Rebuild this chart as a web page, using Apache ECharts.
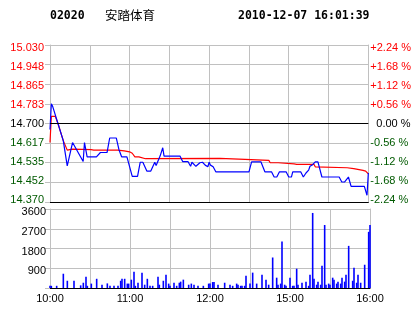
<!DOCTYPE html>
<html><head><meta charset="utf-8">
<script src="https://cdn.jsdelivr.net/npm/echarts@6/dist/echarts.min.js"></script>
<style>html,body{margin:0;padding:0;background:#fff}#c{width:414px;height:314px}</style>
</head><body><div id="c"></div>
<script>
// ---- header texts ----
const stockCode = "02020";
const stockName = "安踏体育";
const stampText = "2010-12-07 16:01:39";

// ---- axis tick labels ----
const priceTicks = ["14.370","14.452","14.535","14.617","14.700","14.783","14.865","14.948","15.030"];
const pctTicks = ["-2.24 %","-1.68 %","-1.12 %","-0.56 %","0.00 %","+0.56 %","+1.12 %","+1.68 %","+2.24 %"];
const timeTicks = ["10:00","","11:00","","12:00","","15:00","","16:00"];
const volTicks = ["","900","1800","2700","3600"];
const prevClose = 14.700;

// ---- price line (minute index from 10:00, price) ----
const priceMin = [0,1,2,6,10,13,17,25,26,28,35,38,43,45,50,52,54,58,62,66,68,70,73,76,79,80,83,85,86,98,100,104,106,107,110,113,115,117,119,120,121,123,125,150,152,159,162,167,169,171,173,178,180,182,183,189,191,193,195,196,198,200,202,205,218,220,222,225,227,237,239,240];
const priceVal = [14.675,14.783,14.772,14.700,14.628,14.522,14.620,14.540,14.620,14.560,14.560,14.578,14.578,14.639,14.639,14.590,14.560,14.560,14.478,14.478,14.537,14.537,14.500,14.500,14.537,14.523,14.563,14.598,14.563,14.563,14.540,14.540,14.520,14.537,14.520,14.535,14.537,14.525,14.518,14.537,14.525,14.518,14.497,14.497,14.539,14.539,14.497,14.497,14.475,14.475,14.497,14.497,14.475,14.475,14.497,14.497,14.475,14.492,14.504,14.520,14.527,14.539,14.539,14.475,14.475,14.454,14.454,14.475,14.436,14.436,14.398,14.492];

// ---- average price line ----
const avgMin = [0,1,4,6,10,13,14,17,31,33,51,56,60,62,64,67,72,128,129,147,148,165,166,172,173,184,186,199,200,224,229,236,238,240];
const avgVal = [14.620,14.730,14.730,14.700,14.628,14.588,14.593,14.592,14.590,14.588,14.588,14.585,14.581,14.575,14.560,14.560,14.552,14.553,14.549,14.549,14.545,14.545,14.535,14.535,14.532,14.530,14.528,14.528,14.518,14.514,14.510,14.503,14.500,14.488];

// ---- volume ----
const volMin = [0,1,5,10,13,18,23,25,27,28,
31,35,39,43,45,48,51,53,54,56,
58,59,61,63,64,66,69,71,73,75,
77,81,82,85,87,89,90,93,95,97,
98,100,104,106,108,111,115,119,120,122,
123,126,131,135,137,140,141,143,144,146,
147,150,152,155,159,162,164,167,170,171,
173,174,176,177,180,182,183,185,186,189,
192,194,195,197,198,200,201,203,204,206,
207,209,210,212,213,215,216,218,219,221,
222,224,227,228,230,231,233,236,239,240];
const volVal = [100,100,100,650,330,330,120,240,515,100,
200,420,150,210,100,100,100,330,420,420,
200,200,380,740,100,240,700,150,420,100,
100,515,150,330,605,200,100,240,100,240,
290,380,150,200,150,100,100,200,200,270,
270,150,240,150,100,200,150,100,100,100,
560,200,700,200,605,380,150,1390,470,150,
200,2120,150,100,470,100,100,880,150,240,
290,100,605,3420,420,150,290,150,1010,2870,
150,200,150,470,380,200,290,200,470,290,
605,1920,330,920,240,605,240,1060,2560,2870];

const GRID = '#c0c0c0', RED = '#ff0000', GREEN = '#005a00', BLUE = '#0000ff';
const FONT = 'Liberation Sans, Arial, sans-serif';
const tickVals = priceTicks.map(Number);
const idxOf = v => tickVals.findIndex(t => Math.abs(t - Number(v)) < 1e-6);
const colorOf = v => { const n = Number(v); return Math.abs(n - prevClose) < 1e-6 ? '#000' : (n > prevClose ? RED : GREEN); };

// label vertical nudges (styling only): labels sit slightly inside the extremes
function richFor(leftPadZero) {
  const r = {};
  tickVals.forEach((t, i) => {
    const d = 2.6 - (tickVals.length - 1 - i) * 0.6;
    const top = d > 0 ? 2 * d : 0, bottom = d < 0 ? -2 * d : 0;
    r['r' + i] = {fontSize: 11, fontFamily: FONT, color: colorOf(t),
      padding: [top, 0, bottom, (leftPadZero && i === 4) ? 6 : 0]};
  });
  return r;
}

const chart = echarts.init(document.getElementById('c'), null, {renderer: 'canvas'});
chart.setOption({
  animation: false,
  backgroundColor: '#fff',
  graphic: [
    {type: 'text', left: 50, top: 10, style: {text: stockCode, font: 'bold 11.5px "DejaVu Sans Mono", monospace', fill: '#000'}},
    {type: 'text', left: 105, top: 9, style: {text: stockName, font: '12.5px "Noto Sans CJK SC", sans-serif', fill: '#000'}},
    {type: 'text', left: 238, top: 10, style: {text: stampText, font: 'bold 11.5px "DejaVu Sans Mono", monospace', fill: '#000'}}
  ],
  grid: [
    {left: 50, top: 45, width: 320, height: 157},
    {left: 50, top: 209, width: 320, height: 79}
  ],
  xAxis: [
    {gridIndex: 0, type: 'value', min: 0, max: 240, interval: 30,
     axisLine: {show: true, onZero: false, lineStyle: {color: '#000', width: 1}},
     axisTick: {show: false}, axisLabel: {show: false},
     splitLine: {show: true, lineStyle: {color: GRID, width: 1}}},
    {gridIndex: 1, type: 'value', min: 0, max: 240, interval: 30,
     axisLine: {show: true, onZero: false, lineStyle: {color: '#000', width: 1}},
     axisTick: {show: false},
     axisLabel: {show: true, margin: 5, fontSize: 11, fontFamily: FONT, color: '#000',
       formatter: v => timeTicks[Math.round(v / 30)] || ''},
     splitLine: {show: true, lineStyle: {color: GRID, width: 1}}}
  ],
  yAxis: [
    {gridIndex: 0, type: 'value', position: 'left', min: tickVals[0], max: tickVals[tickVals.length - 1],
     axisLine: {show: true, onZero: false, lineStyle: {color: GRID}},
     axisTick: {show: true, length: 5, customValues: tickVals, lineStyle: {color: GRID}},
     axisLabel: {show: true, customValues: tickVals, margin: 6, fontSize: 11, fontFamily: FONT,
       formatter: v => { const i = idxOf(v); return '{r' + i + '|' + priceTicks[i] + '}'; },
       rich: richFor(false), color: v => colorOf(v)},
     splitLine: {show: true, lineStyle: {color: GRID, width: 1}}},
    {gridIndex: 0, type: 'value', position: 'right', min: tickVals[0], max: tickVals[tickVals.length - 1],
     axisLine: {show: true, onZero: false, lineStyle: {color: GRID}},
     axisTick: {show: false, customValues: tickVals},
     axisLabel: {show: true, customValues: tickVals, margin: 2, fontSize: 11, fontFamily: FONT,
       formatter: v => { const i = idxOf(v); return '{r' + i + '|' + pctTicks[i] + '}'; },
       rich: richFor(true), color: v => colorOf(v)},
     splitLine: {show: false}},
    {gridIndex: 1, type: 'value', position: 'left', min: 0, max: 3600, interval: 900,
     axisLine: {show: true, onZero: false, lineStyle: {color: GRID}},
     axisTick: {show: true, length: 5, lineStyle: {color: GRID}},
     axisLabel: {show: true, margin: 4, fontSize: 11, fontFamily: FONT, color: '#000',
       formatter: v => { const s = volTicks[Math.round(v / 900)]; return s ? '{a|' + s + '}' : ''; },
       rich: {a: {fontSize: 11, fontFamily: FONT, color: '#000', padding: [6, 0, 0, 0]}}},
     splitLine: {show: true, lineStyle: {color: GRID, width: 1}}},
    {gridIndex: 1, type: 'value', position: 'right', min: 0, max: 3600, interval: 900,
     axisLine: {show: true, onZero: false, lineStyle: {color: GRID}},
     axisTick: {show: false}, axisLabel: {show: false}, splitLine: {show: false}}
  ],
  series: [
    {type: 'line', xAxisIndex: 0, yAxisIndex: 0, symbol: 'none',
     data: avgMin.map((m, i) => [m, avgVal[i]]),
     lineStyle: {color: RED, width: 1.2}, z: 3},
    {type: 'line', xAxisIndex: 0, yAxisIndex: 0, symbol: 'none',
     data: priceMin.map((m, i) => [m, priceVal[i]]),
     lineStyle: {color: BLUE, width: 1.2}, z: 4,
     markLine: {silent: true, symbol: 'none', label: {show: false},
       lineStyle: {color: '#000', width: 1, type: 'solid'}, data: [{yAxis: prevClose}]}},
    {type: 'bar', xAxisIndex: 1, yAxisIndex: 2, barWidth: 1.6,
     data: volMin.map((m, i) => [m, volVal[i]]),
     itemStyle: {color: BLUE}}
  ]
});
</script></body></html>
